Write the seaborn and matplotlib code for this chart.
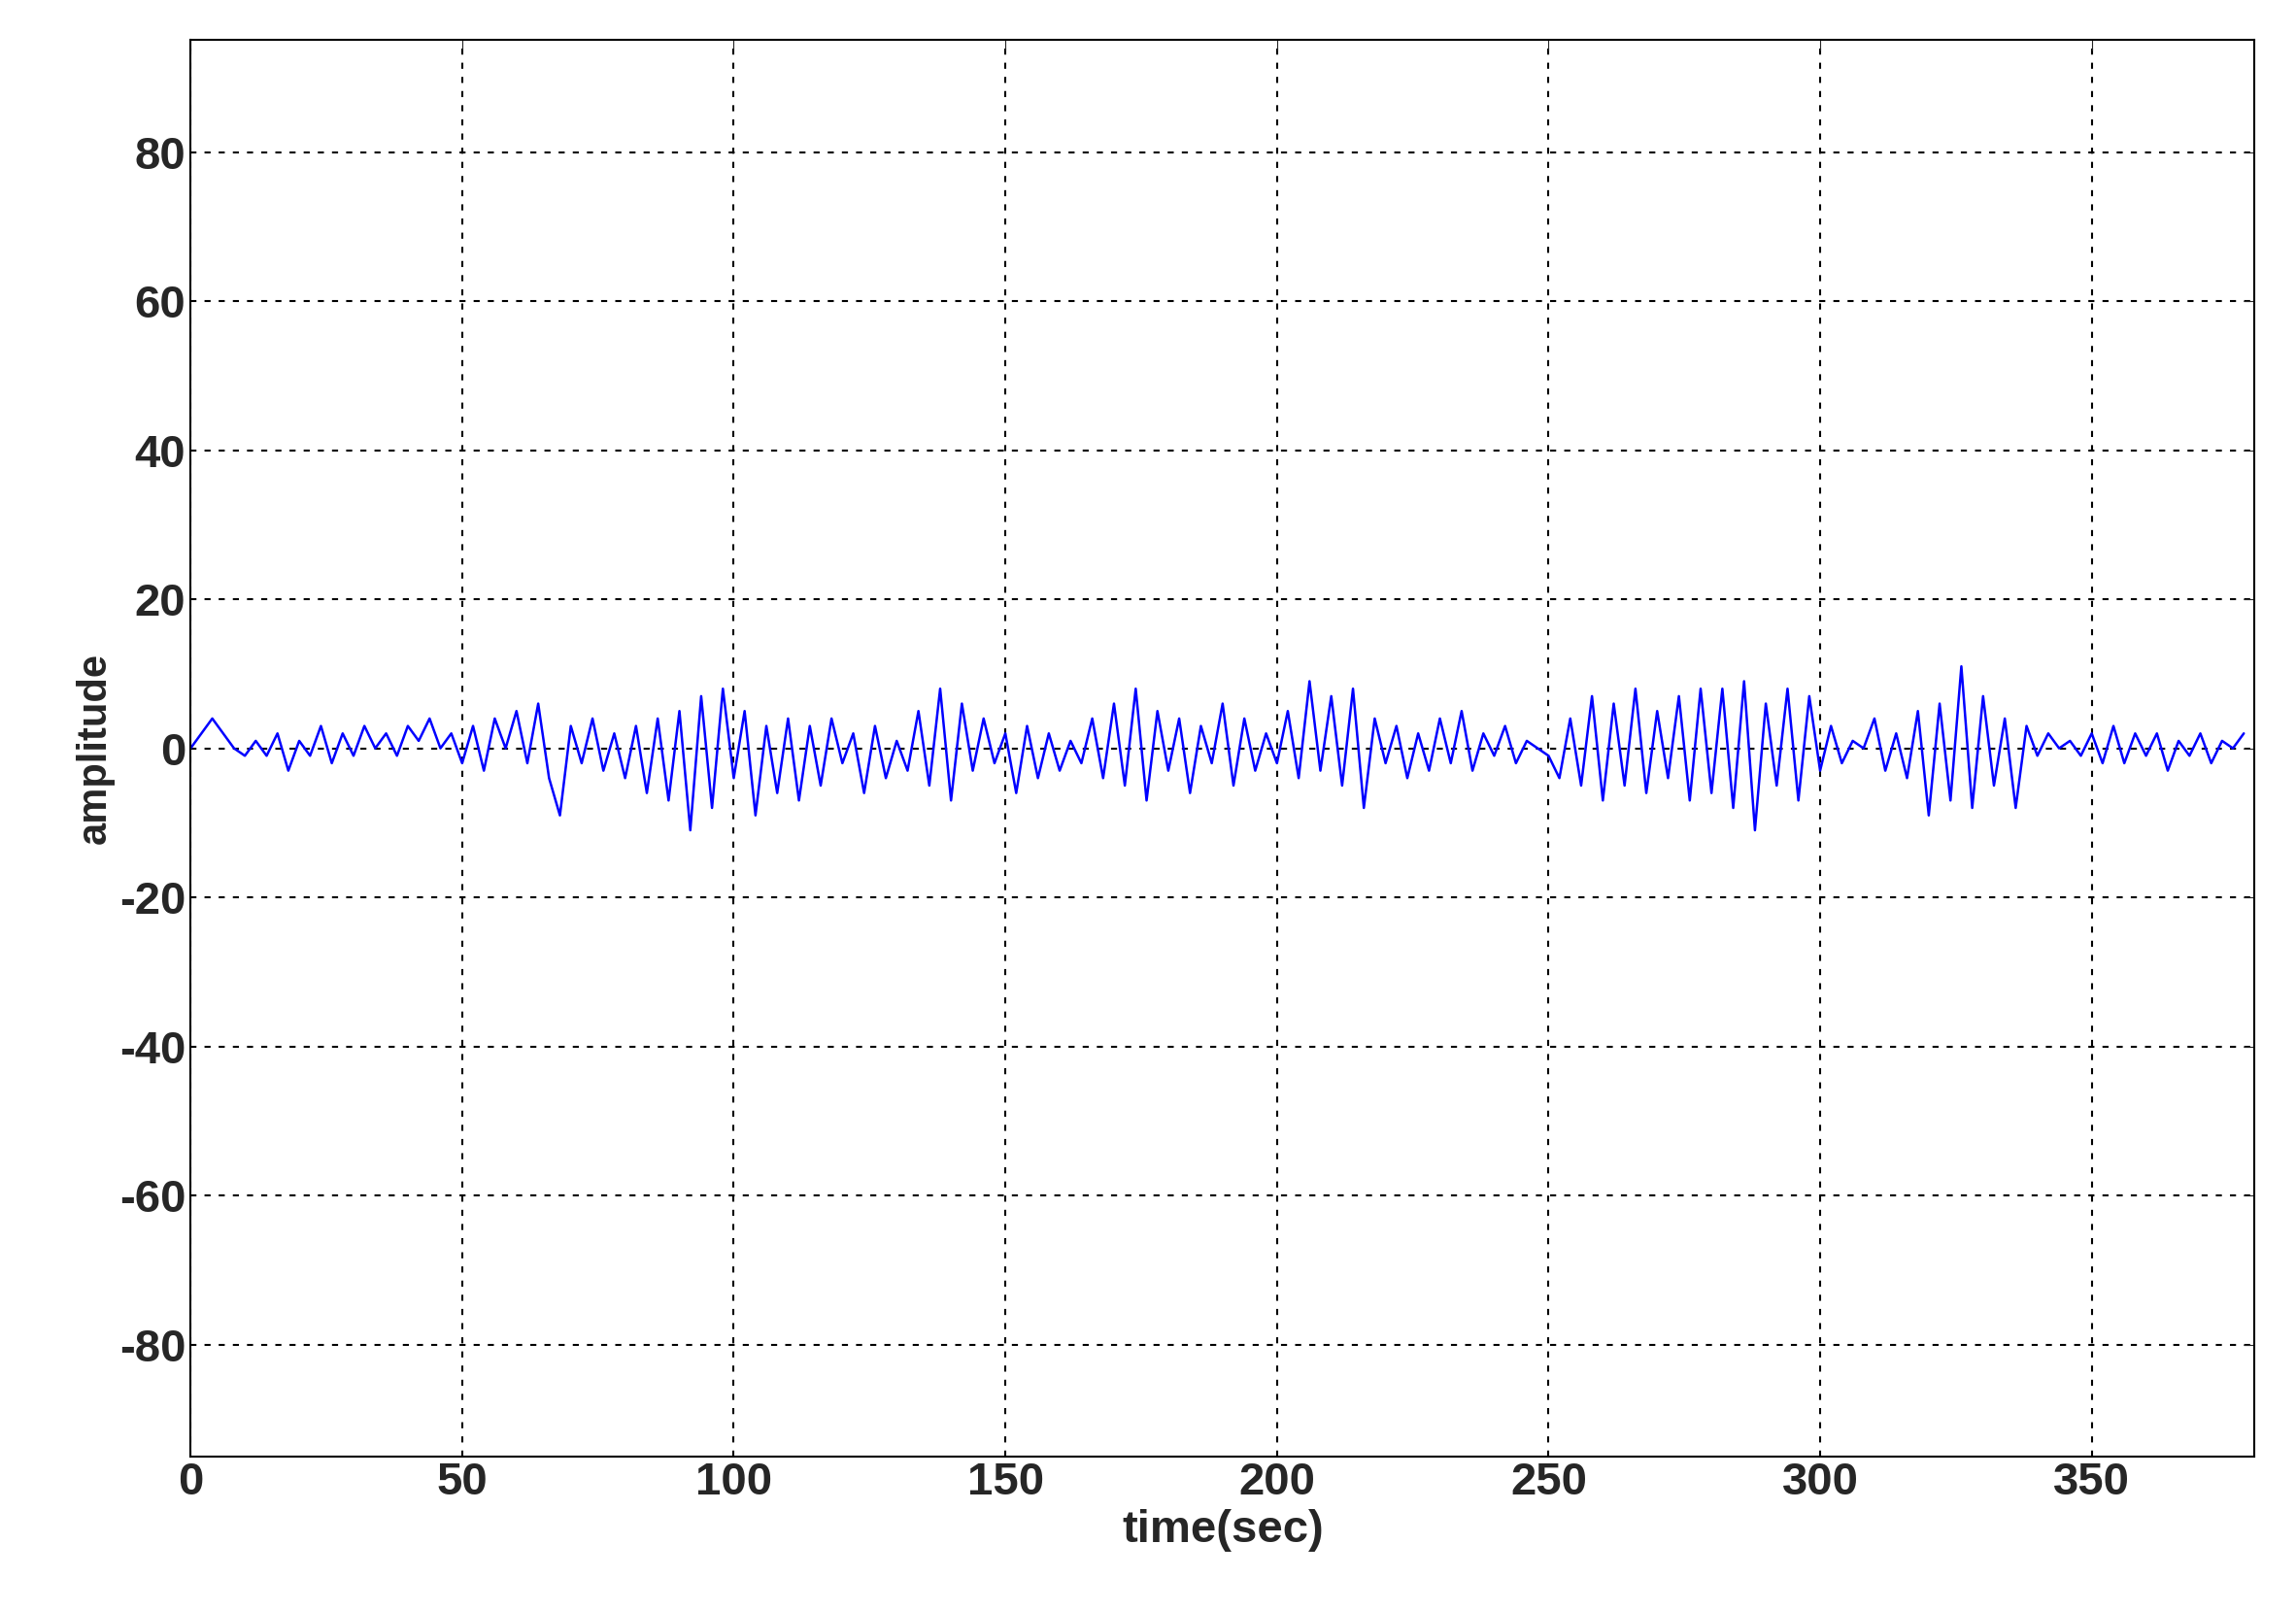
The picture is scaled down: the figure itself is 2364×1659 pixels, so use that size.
import numpy as np
import matplotlib
matplotlib.use("Agg")
import matplotlib.pyplot as plt
import seaborn as sns

time_sec = np.arange(0, 380, 2)
amplitude = [
    0, 2, 4, 2, 0, -1, 1, -1, 2, -3,
    1, -1, 3, -2, 2, -1, 3, 0, 2, -1,
    3, 1, 4, 0, 2, -2, 3, -3, 4, 0,
    5, -2, 6, -4, -9, 3, -2, 4, -3, 2,
    -4, 3, -6, 4, -7, 5, -11, 7, -8, 8,
    -4, 5, -9, 3, -6, 4, -7, 3, -5, 4,
    -2, 2, -6, 3, -4, 1, -3, 5, -5, 8,
    -7, 6, -3, 4, -2, 2, -6, 3, -4, 2,
    -3, 1, -2, 4, -4, 6, -5, 8, -7, 5,
    -3, 4, -6, 3, -2, 6, -5, 4, -3, 2,
    -2, 5, -4, 9, -3, 7, -5, 8, -8, 4,
    -2, 3, -4, 2, -3, 4, -2, 5, -3, 2,
    -1, 3, -2, 1, 0, -1, -4, 4, -5, 7,
    -7, 6, -5, 8, -6, 5, -4, 7, -7, 8,
    -6, 8, -8, 9, -11, 6, -5, 8, -7, 7,
    -3, 3, -2, 1, 0, 4, -3, 2, -4, 5,
    -9, 6, -7, 11, -8, 7, -5, 4, -8, 3,
    -1, 2, 0, 1, -1, 2, -2, 3, -2, 2,
    -1, 2, -3, 1, -1, 2, -2, 1, 0, 2,
]
x_ticks = [0, 50, 100, 150, 200, 250, 300, 350]
y_ticks = [-80, -60, -40, -20, 0, 20, 40, 60, 80]

sns.set_style("white")
plt.rcParams["font.family"] = ["Liberation Sans", "DejaVu Sans"]
plt.rcParams["axes.unicode_minus"] = False

fig = plt.figure(figsize=(23.64, 16.59), dpi=100)
ax = fig.add_axes([0.083, 0.096, 0.899, 0.879])
sns.lineplot(x=time_sec, y=amplitude, color="blue", linewidth=1.8, ax=ax)

ax.set_xlim(0, 380)
ax.set_ylim(-95, 95)
ax.set_xticks(x_ticks)
ax.set_yticks(y_ticks)
ax.tick_params(labelsize=34, direction="in", length=8, top=True, right=True)
for lbl in ax.get_xticklabels() + ax.get_yticklabels():
    lbl.set_fontweight("bold")
ax.grid(True, color="black", linestyle=(0, (3, 4)), linewidth=1.5)
for s in ax.spines.values():
    s.set_color("black")
    s.set_linewidth(1.5)
ax.set_xlabel("time(sec)", fontsize=34, fontweight="bold")
ax.set_ylabel("amplitude", fontsize=30, fontweight="bold")

fig.savefig("out.png", dpi=100, facecolor="white")
